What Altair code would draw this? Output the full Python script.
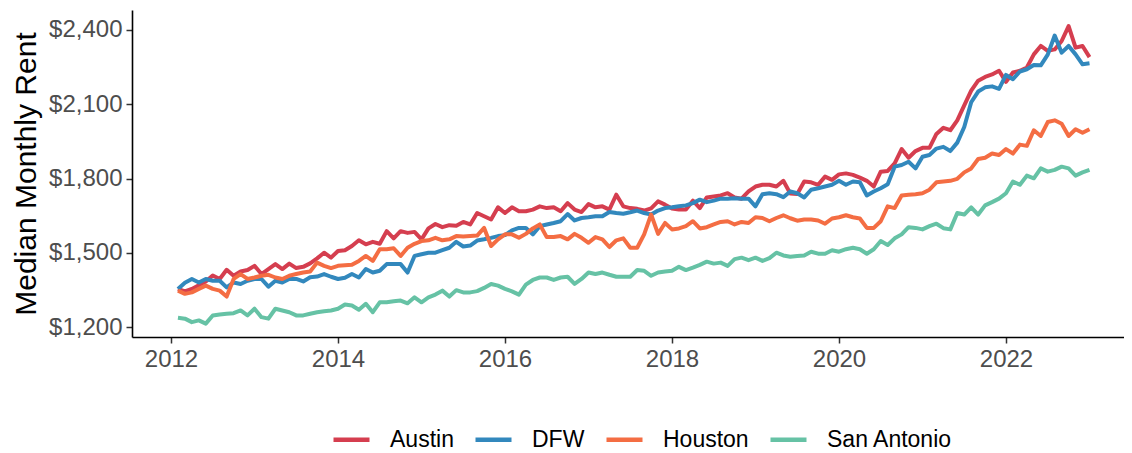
import altair as alt
import pandas as pd

# Monthly observations, Feb 2012 .. Jan 2023
months = pd.date_range("2012-02-01", "2023-01-01", freq="MS")

cities = ["Austin", "DFW", "Houston", "San Antonio"]
colors = ["#D53E4F", "#3288BD", "#F46D43", "#66C2A5"]

austin = [
    1355, 1345, 1355, 1370, 1385, 1409, 1395, 1432, 1408, 1425, 1431, 1448,
    1415, 1435, 1455, 1435, 1457, 1439, 1444, 1458, 1478, 1501, 1481, 1508,
    1511, 1528, 1551, 1535, 1545, 1537, 1588, 1559, 1588, 1581, 1585, 1555,
    1599, 1617, 1604, 1612, 1610, 1625, 1615, 1661, 1648, 1635, 1684, 1661,
    1684, 1668, 1668, 1675, 1688, 1681, 1684, 1668, 1701, 1675, 1665, 1697,
    1684, 1688, 1675, 1735, 1688, 1681, 1678, 1671, 1680, 1708, 1695, 1679,
    1675, 1675, 1711, 1681, 1724, 1728, 1732, 1741, 1724, 1719, 1748, 1768,
    1775, 1775, 1768, 1791, 1740, 1738, 1788, 1785, 1775, 1808, 1795, 1817,
    1821, 1815, 1804, 1791, 1768, 1828, 1831, 1861, 1919, 1884, 1911, 1924,
    1924, 1980, 2005, 1995, 2035, 2095, 2155, 2195, 2210, 2220, 2235, 2190,
    2228, 2235, 2248, 2301, 2335, 2315, 2321, 2355, 2415, 2328, 2335, 2290,
]
dfw = [
    1355, 1380, 1395, 1381, 1395, 1388, 1388, 1361, 1381, 1375, 1388, 1395,
    1395, 1364, 1388, 1381, 1395, 1395, 1385, 1402, 1405, 1415, 1404, 1395,
    1400, 1415, 1401, 1435, 1421, 1428, 1455, 1455, 1455, 1421, 1488, 1495,
    1501, 1501, 1511, 1521, 1545, 1526, 1530, 1550, 1555, 1561, 1568, 1572,
    1591, 1601, 1601, 1575, 1608, 1615, 1621, 1628, 1657, 1631, 1641, 1644,
    1648, 1648, 1665, 1661, 1658, 1664, 1671, 1661, 1655, 1671, 1681, 1684,
    1688, 1692, 1701, 1715, 1705, 1711, 1719, 1719, 1721, 1719, 1719, 1688,
    1737, 1741, 1737, 1725, 1748, 1741, 1724, 1755, 1761, 1768, 1775, 1791,
    1775, 1788, 1785, 1732, 1748, 1761, 1777, 1848, 1855, 1868, 1841, 1888,
    1895, 1921, 1928, 1911, 1945, 2008, 2108, 2151, 2168, 2172, 2162, 2218,
    2201, 2232, 2241, 2258, 2257, 2300, 2377, 2308, 2335, 2301, 2261, 2265,
]
houston = [
    1348, 1335, 1341, 1355, 1368, 1355, 1348, 1324, 1395, 1415, 1395, 1401,
    1408, 1412, 1401, 1395, 1408, 1415, 1421, 1425, 1461, 1448, 1439, 1448,
    1450, 1452, 1468, 1488, 1468, 1515, 1515, 1519, 1488, 1521, 1537, 1548,
    1551, 1561, 1551, 1555, 1568, 1566, 1568, 1570, 1601, 1528, 1555, 1575,
    1575, 1561, 1577, 1599, 1615, 1564, 1564, 1568, 1555, 1577, 1561, 1541,
    1564, 1555, 1524, 1551, 1559, 1521, 1521, 1575, 1655, 1577, 1621, 1595,
    1599, 1608, 1628, 1599, 1604, 1615, 1625, 1628, 1615, 1625, 1621, 1644,
    1641, 1628, 1641, 1652, 1640, 1630, 1635, 1635, 1631, 1618, 1639, 1644,
    1652, 1644, 1639, 1601, 1601, 1628, 1688, 1681, 1732, 1735, 1737, 1741,
    1755, 1785, 1788, 1791, 1799, 1825, 1841, 1879, 1884, 1901, 1895, 1919,
    1901, 1937, 1932, 1995, 1972, 2028, 2035, 2021, 1972, 1999, 1985, 1999,
]
san_antonio = [
    1239, 1235, 1221, 1228, 1215, 1248, 1252, 1255, 1257, 1268, 1248, 1275,
    1241, 1235, 1275, 1268, 1261, 1248, 1248, 1255, 1261, 1265, 1268, 1275,
    1292, 1288, 1271, 1295, 1261, 1301, 1301, 1305, 1308, 1297, 1321, 1301,
    1321, 1332, 1348, 1324, 1350, 1341, 1341, 1346, 1359, 1375, 1368, 1355,
    1345, 1332, 1372, 1391, 1401, 1401, 1391, 1401, 1404, 1375, 1395, 1421,
    1415, 1421, 1412, 1404, 1404, 1404, 1431, 1428, 1408, 1421, 1425, 1428,
    1444, 1431, 1441, 1452, 1465, 1457, 1461, 1448, 1475, 1481, 1471, 1481,
    1468, 1479, 1501, 1490, 1485, 1488, 1490, 1505, 1497, 1497, 1511, 1505,
    1515, 1521, 1515, 1497, 1515, 1548, 1532, 1559, 1575, 1604, 1601, 1595,
    1608, 1618, 1600, 1595, 1661, 1655, 1684, 1655, 1692, 1705, 1719, 1741,
    1788, 1775, 1812, 1801, 1841, 1828, 1835, 1848, 1841, 1812, 1825, 1835,
]

x_ticks = [2012, 2014, 2016, 2018, 2020, 2022]
y_ticks = [1200, 1500, 1800, 2100, 2400]

series = {"Austin": austin, "DFW": dfw, "Houston": houston, "San Antonio": san_antonio}
rows = []
for city, vals in series.items():
    assert len(vals) == len(months)
    for d, v in zip(months, vals):
        rows.append({"t": d.year + (d.month - 1) / 12.0, "rent": v, "city": city})
df = pd.DataFrame(rows)

FONT = "Liberation Sans"
x0 = 2011.533
x1 = x0 + 992 / 83.5

chart = (
    alt.Chart(df)
    .mark_line(strokeWidth=4, strokeJoin="round")
    .encode(
        x=alt.X(
            "t:Q",
            scale=alt.Scale(domain=[x0, x1], nice=False, zero=False),
            axis=alt.Axis(values=x_ticks, format="d", title=None),
        ),
        y=alt.Y(
            "rent:Q",
            scale=alt.Scale(domain=[1161, 2480], nice=False, zero=False),
            axis=alt.Axis(values=y_ticks, format="$,.0f", title="Median Monthly Rent"),
        ),
        color=alt.Color(
            "city:N",
            scale=alt.Scale(domain=cities, range=colors),
            legend=alt.Legend(
                title=None,
                orient="none",
                direction="horizontal",
                legendX=199,
                legendY=409,
                symbolType="stroke",
                symbolStrokeWidth=4.5,
                symbolSize=1296,
                labelFontSize=23,
                labelFont=FONT,
                labelColor="#000000",
                labelOffset=18,
                columnPadding=12,
                padding=0,
            ),
        ),
    )
    .properties(
        width=992,
        height=327,
        autosize=alt.AutoSizeParams(type="none"),
        padding={"left": 124, "top": 2, "right": 0, "bottom": 116},
    )
    .configure_view(strokeWidth=0)
    .configure_axis(
        grid=False,
        domainColor="#000000",
        domainWidth=1.6,
        tickColor="#333333",
        tickWidth=1.5,
        tickSize=6,
        labelFont=FONT,
        labelFontSize=24,
        labelColor="#4D4D4D",
        labelPadding=4,
        titleFont=FONT,
        titleFontSize=30,
        titleFontWeight="normal",
        titleColor="#000000",
        titlePadding=7,
    )
)

chart.save("out.html", embed_options={"renderer": "svg", "actions": False})
